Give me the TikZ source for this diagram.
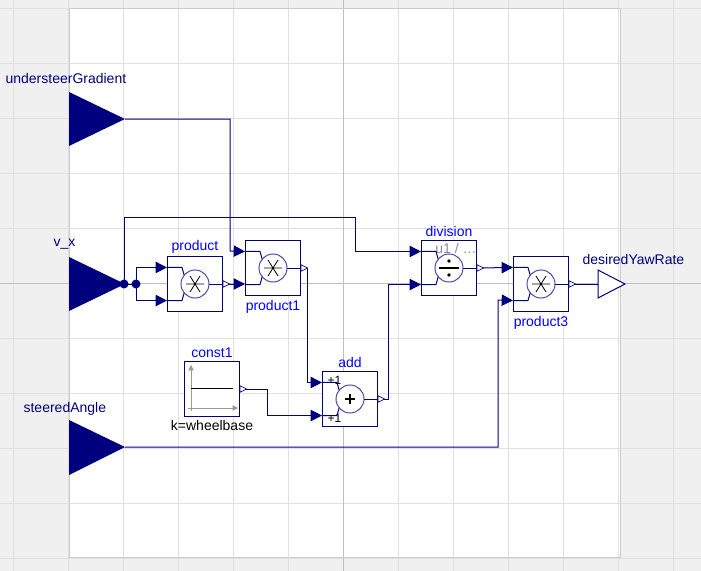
\documentclass[tikz,border=0pt]{standalone}
\usepackage{fontspec}
\setmainfont{Liberation Sans}
\usetikzlibrary{arrows.meta,positioning,calc}
\definecolor{mnavy}{RGB}{0,0,127}
\definecolor{mblue}{RGB}{0,0,255}
\definecolor{mgrid}{RGB}{224,224,224}
\tikzset{
  blk/.style={draw=mnavy,fill=white,minimum width=41.25pt,minimum height=41.25pt,inner sep=0pt,line width=0.75pt},
  op/.style={circle,draw=mnavy!70,fill=white,minimum size=21pt,inner sep=0pt,line width=0.75pt},
  wire/.style={draw=mnavy,line width=0.75pt,-{Triangle[length=8.5pt,width=8.5pt]}},
  plain/.style={draw=mnavy,line width=0.75pt},
  lbl/.style={text=mblue,font=\fontsize{10.5}{10.5}\selectfont,inner sep=1pt},
  port/.style={text=mnavy,font=\fontsize{10.5}{10.5}\selectfont,inner sep=1pt,anchor=west},
}
\begin{document}
\begin{tikzpicture}[x=0.75pt,y=-0.75pt]
\useasboundingbox (0,0) rectangle (701,571);
\fill[black!6] (0,0) rectangle (701,571);
\fill[white] (69,8) rectangle (620,557);
\foreach \gx in {13,68,123,...,673} \draw[mgrid] (\gx,0) -- (\gx,571);
\foreach \gy in {8,63,...,558} \draw[mgrid] (0,\gy) -- (701,\gy);
\draw[black!25] (343,0) -- (343,571);
\draw[black!25] (0,283) -- (701,283);
\draw[black!20] (69,8) rectangle (620,557);

% inputs and output
\fill[mnavy] (69,92) -- (125,119) -- (69,146) -- cycle;
\fill[mnavy] (69,257) -- (125,284) -- (69,311) -- cycle;
\fill[mnavy] (69,420) -- (125,447) -- (69,475) -- cycle;
\draw[mnavy,fill=white,line width=0.75pt] (598,270) -- (625,284) -- (598,298) -- cycle;
\coordinate (usg) at (125,119);
\coordinate (vx) at (124,284);
\coordinate (sa) at (125,447);
\coordinate (dyr) at (598,284);
\node[port] at (4,78) {understeerGradient};
\node[port] at (52,244) {v\_x};
\node[port] at (22,409) {steeredAngle};
\node[port] at (581,259) {desiredYawRate};

% blocks
\node[blk] (product) at (195,284) {};
\node[blk] (product1) at (273,268) {};
\node[blk] (const1) at (212,389) {};
\node[blk] (add) at (350,399) {};
\node[blk] (division) at (449,268) {};
\node[blk] (product3) at (541,284) {};
\node[lbl,above=1pt of product] {product};
\node[lbl,below=2pt of product1] {product1};
\node[lbl,above=1pt of const1] {const1};
\node[lbl,below=1pt of const1,text=black] {k=wheelbase};
\node[lbl,above=1pt of add] {add};
\node[lbl,above=1pt of division] {division};
\node[lbl,below=2pt of product3] {product3};
\node[text=black!45,font=\fontsize{10.5}{10.5}\selectfont] at (456,248) {u1 / \dots};
\node[text=black,font=\fontsize{9}{9}\selectfont,anchor=west] at (323,380) {+1};
\node[text=black,font=\fontsize{9}{9}\selectfont,anchor=west] at (323,418) {+1};

% operators
\foreach \b in {product,product1,product3,add,division}{
  \draw[plain] ([yshift=12.4pt]\b.west) -- ++(15,0) -- ($(\b.center)+(-10,-6)$);
  \draw[plain] ([yshift=-12.4pt]\b.west) -- ++(15,0) -- ($(\b.center)+(-10,6)$);
  \draw[plain] (\b.center) -- (\b.east);
  \node[op] at (\b.center) {};
}
\foreach \b in {product,product1,product3}
  \draw[black,line width=0.6pt] ($(\b.center)+(-9,0)$) -- ++(18,0)
    ($(\b.center)+(-5,-8)$) -- ++(10,16) ($(\b.center)+(5,-8)$) -- ++(-10,16);
\draw[black,line width=1.2pt] ($(add.center)+(-5,0)$) -- ++(10,0) ($(add.center)+(0,-5)$) -- ++(0,10);
\draw[black,line width=0.8pt] ($(division.center)+(-10,0)$) -- ++(20,0);
\fill[black] ($(division.center)+(0,-7)$) circle (1.8) ($(division.center)+(0,7)$) circle (1.8);
\draw[black!40,line width=0.75pt,-{Triangle[length=4pt,width=4pt]}] (191,411) -- (191,365);
\draw[black!40,line width=0.75pt,-{Triangle[length=4pt,width=4pt]}] (188,408) -- (238,408);
\draw[black,line width=0.75pt] (191,388) -- (233,388);

% connections
\draw[wire] (usg) -| (230,251) -- ([yshift=12.4pt]product1.west);
\draw[plain] (125,284) -- (vx);
\draw[wire] (vx) |- (355,217) |- ([yshift=12.4pt]division.west);
\draw[plain] (vx) -- (136,284);
\draw[wire] (136,284) |- ([yshift=12.4pt]product.west);
\draw[wire] (136,284) |- ([yshift=-12.4pt]product.west);
\draw[wire] (product.east) -- (product1.west |- product.east);
\draw[wire] (product1.east) -- ++(6,0) |- ([yshift=12.4pt]add.west);
\draw[wire] (const1.east) -- ++(27,0) |- ([yshift=-12.4pt]add.west);
\draw[wire] (add.east) -- ++(10,0) |- ([yshift=-12.4pt]division.west);
\draw[wire] (division.east) -- ([yshift=12.4pt]product3.west);
\draw[wire] (sa) -| (498,300) -- ([yshift=-12.4pt]product3.west);
\draw[plain] (product3.east) -- (dyr);
\fill[mnavy] (124,284) circle (4.5) (136,284) circle (4.5);
\foreach \b in {product,product1,const1,add,division,product3}
  \draw[mnavy,fill=white,line width=0.5pt] ([yshift=2.5pt]\b.east) -- ([xshift=5pt]\b.east) -- ([yshift=-2.5pt]\b.east) -- cycle;
\end{tikzpicture}
\end{document}
